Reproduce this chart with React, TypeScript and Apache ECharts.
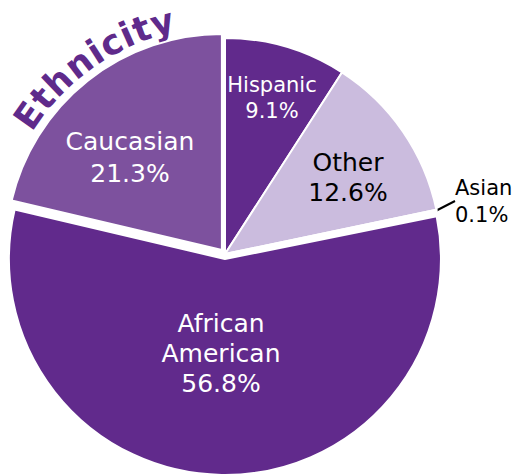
import React, { useEffect, useRef } from "react";
import * as echarts from "echarts";

const categories = ["Hispanic", "Other", "Asian", "African American", "Caucasian"];
const values = [9.1, 12.6, 0.1, 56.8, 21.3];
const exploded = [false, false, false, true, true];
const titleText = "Ethnicity";

const colors = ["#612a8c", "#cbbcde", "#9d6cbf", "#612a8c", "#7d519e"];
const labelColors = ["#ffffff", "#000000", "#000000", "#ffffff", "#ffffff"];
const labelSizes = [21, 25, 21, 25, 25];
const labelLineHeights = [26, 30, 27, 30, 32];
const labelPos: [number, number][] = [[272, 98], [348, 177], [455, 201], [221, 353], [130, 157]];

const CX = 225;
const CY = 254;
const R = 216;
const EXPLODE = 5;
const TITLE_R = 240;
const FONT = "'DejaVu Sans', Verdana, sans-serif";
const TITLE_COLOR = "#5f2a8b";
const TITLE_SIZE = 35;

function titleGraphics() {
  const ctx = document.createElement("canvas").getContext("2d") as CanvasRenderingContext2D;
  ctx.font = `bold ${TITLE_SIZE}px 'DejaVu Sans'`;
  const chars = titleText.split("");
  const widths = chars.map((c) => ctx.measureText(c).width);
  const centers: number[] = [];
  let acc = 0;
  widths.forEach((w) => {
    centers.push(acc + w / 2);
    acc += w;
  });
  const n = chars.length;
  const a0 = -54.8;
  const a1 = -15.2;
  return chars.map((c, i) => {
    const t = (centers[i] - centers[0]) / (centers[n - 1] - centers[0]);
    const a = ((a0 + (a1 - a0) * t) * Math.PI) / 180;
    return {
      type: "text",
      x: CX + TITLE_R * Math.sin(a),
      y: CY - TITLE_R * Math.cos(a),
      rotation: -a,
      style: {
        text: c,
        fontSize: TITLE_SIZE,
        fontWeight: "bold",
        fontFamily: FONT,
        fill: TITLE_COLOR,
        align: "center",
        verticalAlign: "middle",
      },
    };
  });
}

function buildSeries() {
  const total = values.reduce((a, b) => a + b, 0);
  const cum: number[] = [];
  let acc = 0;
  values.forEach((v) => {
    cum.push(acc);
    acc += v;
  });
  // groups: -1 = base (non-exploded), otherwise index of exploded item
  const groups: number[] = [-1, ...exploded.map((e, i) => (e ? i : -2)).filter((g) => g >= 0)];
  return groups.map((g) => {
    let cx = CX;
    let cy = CY;
    if (g >= 0) {
      const mid = ((cum[g] + values[g] / 2) / total) * Math.PI * 2;
      cx = CX + EXPLODE * Math.sin(mid);
      cy = CY - EXPLODE * Math.cos(mid);
    }
    const visible = (i: number) => (g === -1 ? !exploded[i] : i === g);
    const data = categories.map((name, i) => {
      const vis = visible(i);
      return {
        name,
        value: values[i],
        itemStyle: vis
          ? { color: colors[i], borderColor: "#ffffff", borderWidth: 2 }
          : { color: "rgba(0,0,0,0)", borderWidth: 0 },
        label: vis
          ? {
              show: true,
              position: i === 2 ? "outside" : "inside",
              color: labelColors[i],
              fontSize: labelSizes[i],
              lineHeight: labelLineHeights[i],
            }
          : { show: false },
        labelLine:
          vis && i === 2
            ? { show: true, length: 8, length2: 0, lineStyle: { color: "#000", width: 2 } }
            : { show: false },
      };
    });
    return {
      type: "pie",
      center: [cx, cy],
      radius: [0, R],
      startAngle: 90,
      clockwise: true,
      avoidLabelOverlap: false,
      minAngle: 0,
      silent: true,
      emphasis: { disabled: true },
      label: {
        fontFamily: FONT,
        formatter: (p: any) => `${String(p.name).replace(" ", "\n")}\n${Number(p.value).toFixed(1)}%`,
      },
      labelLayout: (p: any) => {
        const pos = labelPos[p.dataIndex];
        return {
          x: pos[0],
          y: pos[1],
          align: p.dataIndex === 2 ? "left" : "center",
          verticalAlign: "middle",
        };
      },
      data,
    };
  });
}

export default function App() {
  const ref = useRef<HTMLDivElement>(null);
  useEffect(() => {
    if (!ref.current) return;
    const chart = echarts.init(ref.current, null, { renderer: "svg" });
    chart.setOption({
      animation: false,
      backgroundColor: "#ffffff",
      graphic: titleGraphics(),
      series: buildSeries(),
    });
    return () => chart.dispose();
  }, []);
  return (
    <div
      ref={ref}
      style={{ position: "absolute", left: 0, top: 0, width: 519, height: 476 }}
    />
  );
}
